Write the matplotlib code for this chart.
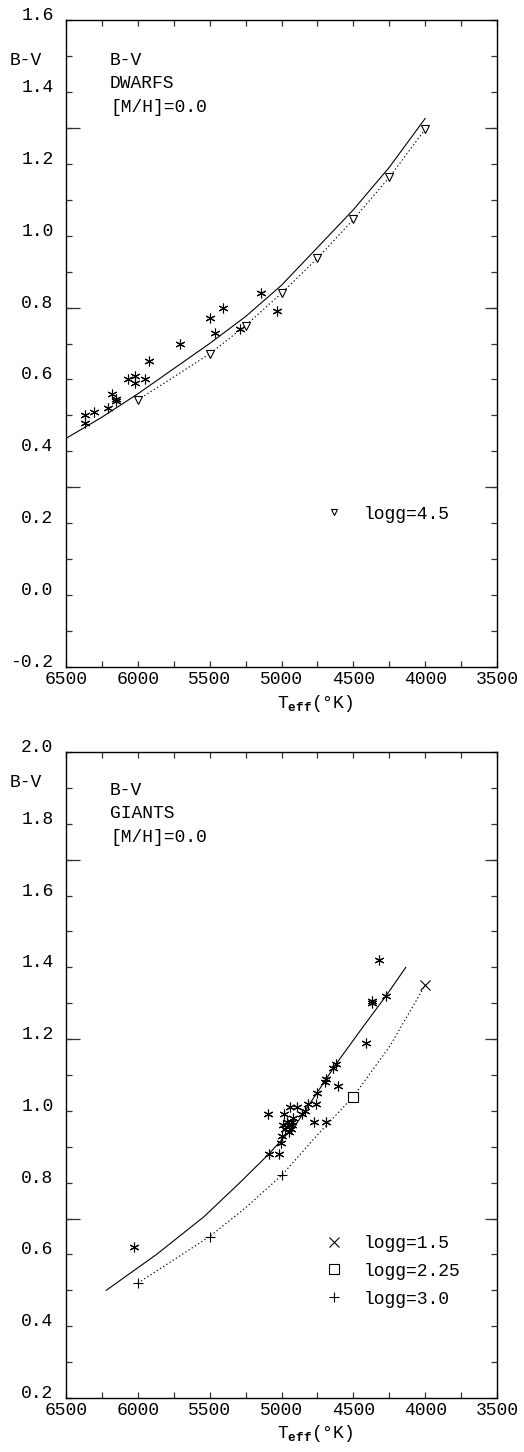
import matplotlib
matplotlib.use("Agg")
import matplotlib.pyplot as plt
from matplotlib.lines import Line2D
from matplotlib.ticker import MultipleLocator, FormatStrFormatter

plt.rcParams['font.family'] = ['Liberation Mono', 'DejaVu Sans Mono']
plt.rcParams['axes.unicode_minus'] = False
plt.rcParams['mathtext.fontset'] = 'custom'
plt.rcParams['mathtext.rm'] = 'Liberation Mono'
plt.rcParams['mathtext.bf'] = 'Liberation Mono:bold'

# ---------------- dwarfs ([M/H]=0.0) ----------------
dwarf_model_T = [6500, 6250, 6000, 5750, 5500, 5250, 5000, 4750, 4500, 4250, 4000]
dwarf_model_BV = [0.436, 0.495, 0.56, 0.63, 0.70, 0.775, 0.862, 0.967, 1.072, 1.19, 1.326]

dwarf_grid_T = [6000, 5500, 5250, 5000, 4750, 4500, 4250, 4000]
dwarf_grid_BV = [0.543, 0.671, 0.750, 0.840, 0.937, 1.045, 1.162, 1.296]

dwarf_obs_T = [6370, 6370, 6305, 6205, 6180, 6155, 6150, 6065, 6020, 6020,
               5950, 5920, 5705, 5500, 5460, 5410, 5290, 5140, 5030]
dwarf_obs_BV = [0.50, 0.48, 0.51, 0.52, 0.56, 0.545, 0.54, 0.60, 0.61, 0.59,
                0.60, 0.65, 0.70, 0.77, 0.73, 0.80, 0.74, 0.84, 0.79]

# ---------------- giants ([M/H]=0.0) ----------------
giant_model_T = [6220, 5870, 5540, 5290, 5100, 4900, 4755, 4616, 4431, 4268, 4135]
giant_model_BV = [0.50, 0.60, 0.705, 0.80, 0.875, 0.962, 1.049, 1.133, 1.235, 1.323, 1.40]

giant_grid_T = [6000, 5500, 5250, 5000, 4750, 4500, 4250, 4000]
giant_grid_BV = [0.52, 0.65, 0.73, 0.82, 0.933, 1.04, 1.178, 1.35]

g30_T, g30_BV = [6000, 5500, 5000], [0.52, 0.65, 0.82]
g225_T, g225_BV = [4500], [1.04]
g15_T, g15_BV = [4000], [1.35]

giant_obs_T = [6030, 5095, 5085, 5020, 5005, 5000, 4990, 4985, 4975, 4960,
               4950, 4945, 4940, 4935, 4930, 4925, 4920, 4890, 4860, 4835,
               4815, 4775, 4760, 4750, 4700, 4690, 4690, 4645, 4620, 4610,
               4415, 4370, 4372, 4320, 4270]
giant_obs_BV = [0.62, 0.99, 0.88, 0.88, 0.91, 0.93, 0.96, 0.99, 0.95, 0.97,
                0.94, 0.96, 1.01, 0.95, 0.96, 0.97, 0.98, 1.01, 0.99, 1.00,
                1.02, 0.97, 1.02, 1.05, 1.08, 1.09, 0.97, 1.12, 1.13, 1.07,
                1.19, 1.30, 1.305, 1.42, 1.32]

W, H = 524, 1452
fig = plt.figure(figsize=(W / 100, H / 100), dpi=100)
ax1 = fig.add_axes([66 / W, 1 - 667 / H, 431 / W, 647 / H])
ax2 = fig.add_axes([66 / W, 1 - 1398 / H, 431 / W, 646 / H])

FS = 13
STAR = (6, 2, 0)
DOT = (0, (1.2, 2.2))


def style_axes(ax, ylo, yhi, long_ticks):
    ax.set_xlim(6500, 3500)
    ax.set_ylim(ylo, yhi)
    for sp in ax.spines.values():
        sp.set_linewidth(1.0)
    ax.xaxis.set_major_locator(MultipleLocator(500))
    ax.xaxis.set_minor_locator(MultipleLocator(250))
    ax.yaxis.set_major_locator(MultipleLocator(0.2))
    ax.yaxis.set_minor_locator(MultipleLocator(0.1))
    ax.yaxis.set_major_formatter(FormatStrFormatter('%.1f'))
    ax.tick_params(which='both', direction='in', top=True, right=True,
                   length=4, width=0.9, labelsize=FS, color='#333333')
    ax.tick_params(axis='x', which='major', pad=3)
    ax.tick_params(axis='y', which='major', pad=9)
    for lbl in ax.get_yticklabels():
        lbl.set_verticalalignment('baseline')
    # longer reference ticks on both vertical sides
    for side, ln in (('left', 10), ('right', 9)):
        sec = ax.secondary_yaxis(side)
        sec.set_yticks(long_ticks)
        sec.tick_params(direction='in', length=ln, width=0.9,
                        labelleft=False, labelright=False, color='#333333')
        sec.spines[side].set_visible(False)


# ---- top panel: dwarfs ----
style_axes(ax1, -0.2, 1.6, [0.3, 0.8, 1.3])
ax1.plot(dwarf_model_T, dwarf_model_BV, color='black', lw=0.8)
ax1.plot(dwarf_grid_T, dwarf_grid_BV, color='black', lw=0.8, ls=DOT)
ax1.plot(dwarf_grid_T, dwarf_grid_BV, ls='none', marker='v', ms=6,
         mfc='white', mec='black', mew=0.8)
ax1.plot(dwarf_obs_T, dwarf_obs_BV, ls='none', marker=STAR, ms=7,
         color='black', mew=0.8)

for txt, yy in (("B-V", 0.930), ("DWARFS", 0.895), ("[M/H]=0.0", 0.858)):
    ax1.text(0.102, yy, txt, transform=ax1.transAxes, fontsize=FS,
             va='baseline', ha='left')

h_top = [Line2D([], [], ls='none', marker='v', ms=5, mfc='white',
                mec='black', mew=0.8)]
ax1.legend(h_top, ["logg=4.5"], loc='upper left', bbox_to_anchor=(0.589, 0.255),
           frameon=False, fontsize=FS, handlelength=1.2, handletextpad=1.0,
           borderpad=0.2, borderaxespad=0)

# ---- bottom panel: giants ----
style_axes(ax2, 0.2, 2.0, [0.7, 1.2, 1.7])
ax2.plot(giant_model_T, giant_model_BV, color='black', lw=0.8)
ax2.plot(giant_grid_T, giant_grid_BV, color='black', lw=0.8, ls=DOT)
ax2.plot(g15_T, g15_BV, ls='none', marker='x', ms=7.5, color='black', mew=0.8)
ax2.plot(g225_T, g225_BV, ls='none', marker='s', ms=7, mfc='white',
         mec='black', mew=0.8)
ax2.plot(g30_T, g30_BV, ls='none', marker='+', ms=7.5, color='black', mew=0.8)
ax2.plot(giant_obs_T, giant_obs_BV, ls='none', marker=STAR, ms=7,
         color='black', mew=0.8)

for txt, yy in (("B-V", 0.933), ("GIANTS", 0.898), ("[M/H]=0.0", 0.861)):
    ax2.text(0.102, yy, txt, transform=ax2.transAxes, fontsize=FS,
             va='baseline', ha='left')

h_bot = [Line2D([], [], ls='none', marker='x', ms=7, color='black', mew=0.8),
         Line2D([], [], ls='none', marker='s', ms=7, mfc='white', mec='black', mew=0.8),
         Line2D([], [], ls='none', marker='+', ms=7, color='black', mew=0.8)]
ax2.legend(h_bot, ["logg=1.5", "logg=2.25", "logg=3.0"], loc='upper left',
           bbox_to_anchor=(0.589, 0.258), frameon=False, fontsize=FS,
           handlelength=1.2, handletextpad=1.0, labelspacing=0.6,
           borderpad=0.2, borderaxespad=0)

# axis titles
for ybase in (65, 787):
    fig.text(10 / W, 1 - ybase / H, "B-V", fontsize=FS, va='baseline', ha='left')
for ybase in (708, 1438):
    fig.text(277 / W, 1 - ybase / H, r"T$_{\mathbf{eff}}$(°K)", fontsize=FS,
             va='baseline', ha='left')

fig.savefig("out.png", dpi=100)
